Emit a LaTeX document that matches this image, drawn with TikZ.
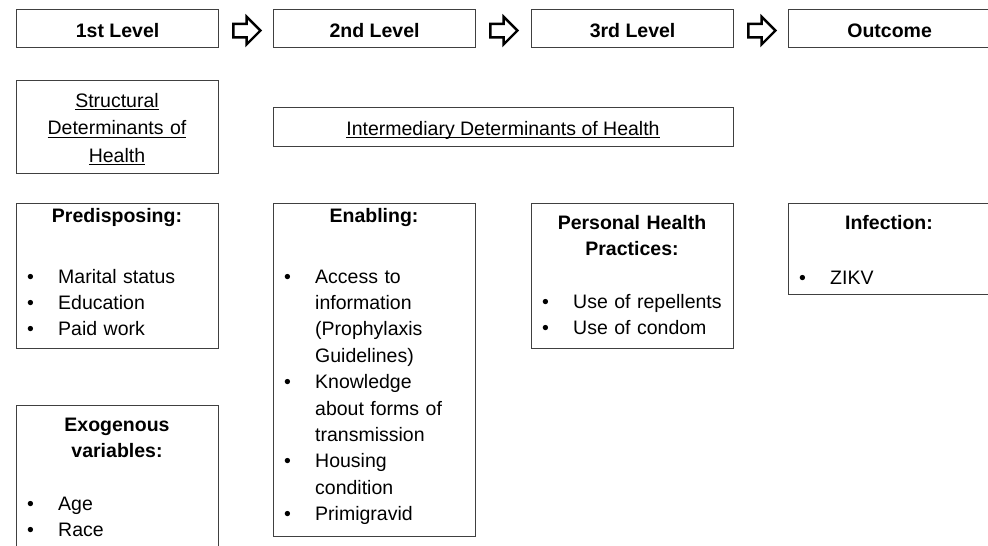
\documentclass[tikz,border=0pt]{standalone}
\usepackage{fontspec}
\setmainfont{Liberation Sans}
\usetikzlibrary{positioning,shapes.arrows}

% underlined text with a fixed rule
\newcommand{\ulbox}[1]{\leavevmode\setbox0\hbox{#1}\rlap{\vrule width\wd0 height -2pt depth 3.4pt}\box0}
% bullet lines
\newcommand{\bitem}[1]{\noindent\makebox[31pt][l]{\textbullet}#1\par}
\newcommand{\bcont}[1]{\noindent\hspace*{31pt}#1\par}

\begin{document}
\begin{tikzpicture}[x=1pt, y=-1pt,
      every node/.style={font=\fontsize{19.5}{26.4}\selectfont},
      box/.style={draw=black!75, line width=1.2pt, inner sep=0pt,
                  anchor=north west},
      lvlbox/.style={box, minimum width=202pt, minimum height=38pt,
                     text height=18pt, text depth=0pt,
                     font=\fontsize{19.5}{26.4}\selectfont\bfseries},
      harrow/.style={single arrow, draw=black, line width=2.4pt,
                     minimum width=24pt, minimum height=27pt,
                     inner xsep=0pt, inner ysep=5.5pt},
      headtxt/.style={text width=200pt, align=center, anchor=base,
                      inner sep=0pt,
                      font=\fontsize{19.5}{26.4}\selectfont\bfseries},
      listtxt/.style={text width=190pt, align=left, anchor=base west,
                      inner sep=0pt},
    ]
    \useasboundingbox (0,0) rectangle (988,546);
    \clip (0,0) rectangle (988,546);

    % Row 1: levels
    \node[lvlbox] (lvl1) at (16,9)  {1st Level};
    \node[lvlbox] (lvl2) at (273,9) {2nd Level};
    \node[lvlbox] (lvl3) at (531,9) {3rd Level};
    \node[lvlbox] (lvl4) at (788,9) {Outcome};

    % Arrows between levels
    \node[harrow, right=13pt of lvl1, yshift=-2pt] (ar1) {};
    \node[harrow, right=13pt of lvl2, yshift=-2pt] (ar2) {};
    \node[harrow, right=13pt of lvl3, yshift=-2pt] (ar3) {};

    % Row 2: determinants
    \node[box, minimum width=202pt, minimum height=93pt] (sdh) at (16,80) {};
    \node[headtxt, font=\fontsize{19.5}{27.5}\selectfont] (sdhtxt) at (117,107)
      {\ulbox{Structural}\\\ulbox{Determinants of}\\\ulbox{Health}};
    \node[box, minimum width=460pt, minimum height=39pt] (idh) at (273,107) {};
    \node[anchor=base, inner sep=0pt] (idhtxt) at (503,135)
      {\ulbox{Intermediary Determinants of Health}};

    % Row 3: factors
    \node[box, minimum width=202pt, minimum height=145pt] (pred) at (16,203) {};
    \node[headtxt] (predhead) at (117,222) {Predisposing:};
    \node[listtxt] (predlist) at (27,283)
      {\bitem{Marital status}\bitem{Education}\bitem{Paid work}};

    \node[box, minimum width=202pt, minimum height=333pt] (enab) at (273,203) {};
    \node[headtxt] (enabhead) at (374,222) {Enabling:};
    \node[listtxt] (enablist) at (284,283)
      {\bitem{Access to}\bcont{information}\bcont{(Prophylaxis}\bcont{Guidelines)}%
       \bitem{Knowledge}\bcont{about forms of}\bcont{transmission}%
       \bitem{Housing}\bcont{condition}\bitem{Primigravid}};

    \node[box, minimum width=202pt, minimum height=145pt] (php) at (531,203) {};
    \node[headtxt] (phphead) at (632,229) {Personal Health\\Practices:};
    \node[listtxt] (phplist) at (542,308)
      {\bitem{Use of repellents}\bitem{Use of condom}};

    \node[box, minimum width=202pt, minimum height=91pt] (inf) at (788,203) {};
    \node[headtxt] (infhead) at (889,229) {Infection:};
    \node[listtxt] (inflist) at (799,284) {\bitem{ZIKV}};

    % Row 4: exogenous
    \node[box, minimum width=202pt, minimum height=145pt] (exo) at (16,405) {};
    \node[headtxt] (exohead) at (117,431) {Exogenous\\variables:};
    \node[listtxt] (exolist) at (27,510) {\bitem{Age}\bitem{Race}};

\end{tikzpicture}
\end{document}
